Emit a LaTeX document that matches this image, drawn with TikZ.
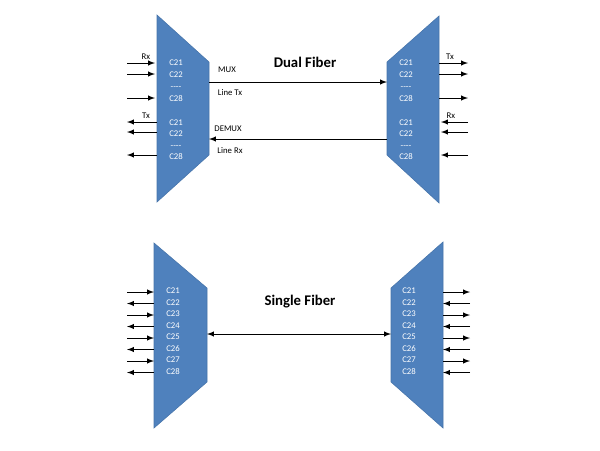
\documentclass[tikz,border=0pt]{standalone}
\usepackage{fontspec}
\setmainfont{Carlito}
\usepackage{xcolor}
\definecolor{muxblue}{HTML}{4F81BD}
\definecolor{muxedge}{HTML}{4674AA}

\begin{document}
\begin{tikzpicture}[x=0.025cm, y=-0.025cm, >=latex,
    mux/.style={fill=muxblue, draw=muxedge, line width=0.4pt},
    ch/.style={text=white, font=\fontsize{6.2}{7}\selectfont, inner sep=0pt},
    lbl/.style={font=\fontsize{6.2}{7}\selectfont, inner sep=0pt},
    sig/.style={draw, ->, line width=0.7pt},
    title/.style={font=\bfseries\fontsize{10.5}{12}\selectfont}]
    \useasboundingbox (0,0) rectangle (600,450);

    % Dual fiber: multiplexers
    \draw[mux] (157,15) -- (209,62) -- (209,155) -- (157,202) -- cycle;
    \draw[mux] (387,62) -- (439,16) -- (439,203) -- (387,155) -- cycle;
    \node[title] (dual) at (305,62) {Dual Fiber};

    % left channels
    \node[ch] (la21) at (176,63) {C21};
    \node[ch] (la22) at (176,75) {C22};
    \node[ch] (lad) at (176,88) {{-}{-}{-}{-}};
    \node[ch] (la28) at (176,99) {C28};
    \node[ch] (lb21) at (176,123) {C21};
    \node[ch] (lb22) at (176,134) {C22};
    \node[ch] (lbd) at (176,147) {{-}{-}{-}{-}};
    \node[ch] (lb28) at (176,157) {C28};

    % right channels
    \node[ch] (ra21) at (406,63) {C21};
    \node[ch] (ra22) at (406,75) {C22};
    \node[ch] (rad) at (406,88) {{-}{-}{-}{-}};
    \node[ch] (ra28) at (406,99) {C28};
    \node[ch] (rb21) at (406,123) {C21};
    \node[ch] (rb22) at (406,134) {C22};
    \node[ch] (rbd) at (406,147) {{-}{-}{-}{-}};
    \node[ch] (rb28) at (406,157) {C28};

    % client ports
    \coordinate (lin1) at (127,63);   \coordinate (lmx1) at (155,63);
    \coordinate (lin2) at (127,74);   \coordinate (lmx2) at (155,74);
    \coordinate (lin3) at (127,98);   \coordinate (lmx3) at (155,98);
    \coordinate (lout1) at (127,122); \coordinate (ldm1) at (157,122);
    \coordinate (lout2) at (127,132); \coordinate (ldm2) at (157,132);
    \coordinate (lout3) at (127,155); \coordinate (ldm3) at (157,155);
    \coordinate (rout1) at (468,63);  \coordinate (rdm1) at (439,63);
    \coordinate (rout2) at (468,74);  \coordinate (rdm2) at (439,74);
    \coordinate (rout3) at (468,98);  \coordinate (rdm3) at (439,98);
    \coordinate (rin1) at (468,122);  \coordinate (rmx1) at (441,122);
    \coordinate (rin2) at (468,132);  \coordinate (rmx2) at (441,132);
    \coordinate (rin3) at (468,155);  \coordinate (rmx3) at (441,155);

    \draw[sig] (lin1) -- (lmx1);
    \draw[sig] (lin2) -- (lmx2);
    \draw[sig] (lin3) -- (lmx3);
    \draw[sig] (ldm1) -- (lout1);
    \draw[sig] (ldm2) -- (lout2);
    \draw[sig] (ldm3) -- (lout3);
    \draw[sig] (rdm1) -- (rout1);
    \draw[sig] (rdm2) -- (rout2);
    \draw[sig] (rdm3) -- (rout3);
    \draw[sig] (rin1) -- (rmx1);
    \draw[sig] (rin2) -- (rmx2);
    \draw[sig] (rin3) -- (rmx3);

    \node[lbl] (lrx) at (146,57) {Rx};
    \node[lbl] (ltx) at (146,116) {Tx};
    \node[lbl] (rtx) at (450,57) {Tx};
    \node[lbl] (rrx) at (451,116) {Rx};

    % line side
    \coordinate (txa) at (209,82);  \coordinate (txb) at (387,82);
    \coordinate (rxa) at (387,139); \coordinate (rxb) at (209,139);
    \draw[sig] (txa) -- (txb);
    \draw[sig] (rxa) -- (rxb);
    \node[lbl] (mux) at (227,70) {MUX};
    \node[lbl] (linetx) at (230,93) {Line Tx};
    \node[lbl] (demux) at (228,129) {DEMUX};
    \node[lbl] (linerx) at (230,151) {Line Rx};

    % Single fiber: multiplexers
    \draw[mux] (154,243) -- (207,288) -- (207,382) -- (154,428) -- cycle;
    \draw[mux] (391,288) -- (443,242) -- (443,428) -- (391,382) -- cycle;
    \node[title] (single) at (300,302) {Single Fiber};

    \foreach \i in {0,...,7} {
        \pgfmathtruncatemacro{\c}{21+\i}
        \node[ch] (sl\c) at (173,291+11.5*\i) {C\c};
        \node[ch] (sr\c) at (409,291+11.5*\i) {C\c};
        \coordinate (slf\c) at (127,292+11.5*\i);
        \coordinate (sle\c) at (154,292+11.5*\i);
        \coordinate (srf\c) at (470,292+11.5*\i);
        \coordinate (sre\c) at (443,292+11.5*\i);
        \ifodd\i
            \draw[sig] (sle\c) -- (slf\c);
            \draw[sig] (srf\c) -- (sre\c);
        \else
            \draw[sig] (slf\c) -- (sle\c);
            \draw[sig] (sre\c) -- (srf\c);
        \fi
    }

    \coordinate (sfa) at (207,334); \coordinate (sfb) at (391,334);
    \draw[sig, <->] (sfa) -- (sfb);
\end{tikzpicture}
\end{document}
